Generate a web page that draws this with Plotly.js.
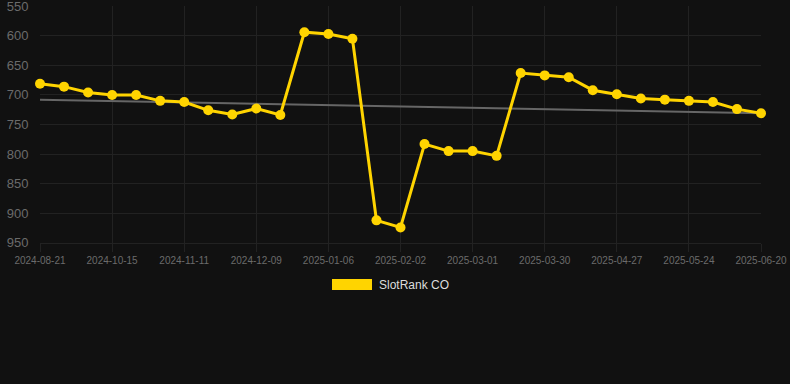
<!DOCTYPE html>
<html>
<head>
<meta charset="utf-8">
<script src="https://cdn.plot.ly/plotly-3.0.1.min.js"></script>
<style>
html,body{margin:0;padding:0;background:#111111;}
#chart{width:790px;height:384px;}
</style>
</head>
<body>
<div id="chart"></div>
<script>
const dates = [
  "2024-08-21","2024-09-08","2024-09-26","2024-10-15","2024-10-24","2024-11-02",
  "2024-11-11","2024-11-20","2024-11-30","2024-12-09","2024-12-18","2024-12-27",
  "2025-01-06","2025-01-15","2025-01-24","2025-02-02","2025-02-11","2025-02-20",
  "2025-03-01","2025-03-10","2025-03-20","2025-03-30","2025-04-08","2025-04-18",
  "2025-04-27","2025-05-06","2025-05-15","2025-05-24","2025-06-02","2025-06-11",
  "2025-06-20"
];
const rankValues = [
  681, 686, 696, 700, 700, 710, 712, 726, 733, 723, 734,
  594, 597, 605, 912, 924, 783, 795, 795, 803,
  663, 667, 670, 692, 699, 706, 708, 710, 712, 724, 731
];
const tickDates = ["2024-08-21","2024-10-15","2024-11-11","2024-12-09","2025-01-06",
  "2025-02-02","2025-03-01","2025-03-30","2025-04-27","2025-05-24","2025-06-20"];
const trendDates = ["2024-08-21","2025-06-20"];
const trendValues = [708, 731];
const yTicks = [550,600,650,700,750,800,850,900,950];
const seriesName = "SlotRank CO";

const gridColor = "#222222";
const tickColor = "#6b6b6b";
const gold = "#FFD400";

const traces = [
  {
    x: trendDates, y: trendValues, type: "scatter", mode: "lines",
    line: {color: "#666666", width: 2}, hoverinfo: "skip", showlegend: false
  },
  {
    x: dates, y: rankValues, type: "scatter", mode: "lines+markers", name: seriesName,
    line: {color: gold, width: 3},
    marker: {color: gold, size: 10},
    cliponaxis: false, showlegend: false
  }
];

const plotTop = 6, plotB = 243;
const plotH = plotB - plotTop, plotW = 721, plotL = 40;
const layout = {
  width: 790, height: 384,
  paper_bgcolor: "#111111", plot_bgcolor: "#111111",
  margin: {l: 40, r: 29, t: plotTop, b: 384 - plotB},
  font: {family: "Arial, 'Liberation Sans', sans-serif"},
  xaxis: {
    type: "category", categoryorder: "array", categoryarray: dates,
    range: [0, dates.length - 1],
    tickmode: "array", tickvals: tickDates, ticktext: tickDates,
    showgrid: true, gridcolor: gridColor, gridwidth: 1,
    ticks: "outside", ticklen: 8, tickcolor: gridColor,
    tickfont: {size: 10, color: tickColor},
    zeroline: false, showline: true, linecolor: gridColor,
    fixedrange: true
  },
  yaxis: {
    range: [950.3, 549.7],
    tickmode: "array", tickvals: yTicks,
    ticklabeloverflow: "allow",
    showgrid: true, gridcolor: gridColor, gridwidth: 1,
    ticks: "outside", ticklen: 8, tickcolor: "rgba(0,0,0,0)",
    tickfont: {size: 13, color: tickColor},
    zeroline: false, showline: false,
    fixedrange: true
  },
  shapes: [
    {type: "rect", xref: "paper", yref: "paper",
     x0: (332-plotL)/plotW, x1: (372-plotL)/plotW,
     y0: (plotB-290)/plotH, y1: (plotB-279)/plotH,
     fillcolor: gold, line: {width: 0}}
  ],
  annotations: [
    {xref: "paper", yref: "paper", x: (377-plotL)/plotW, y: (plotB-285)/plotH,
     xanchor: "left", yanchor: "middle", showarrow: false,
     text: seriesName, font: {size: 12, color: "#dddddd"}}
  ],
  showlegend: false
};

Plotly.newPlot("chart", traces, layout, {displayModeBar: false, staticPlot: true});
</script>
</body>
</html>
